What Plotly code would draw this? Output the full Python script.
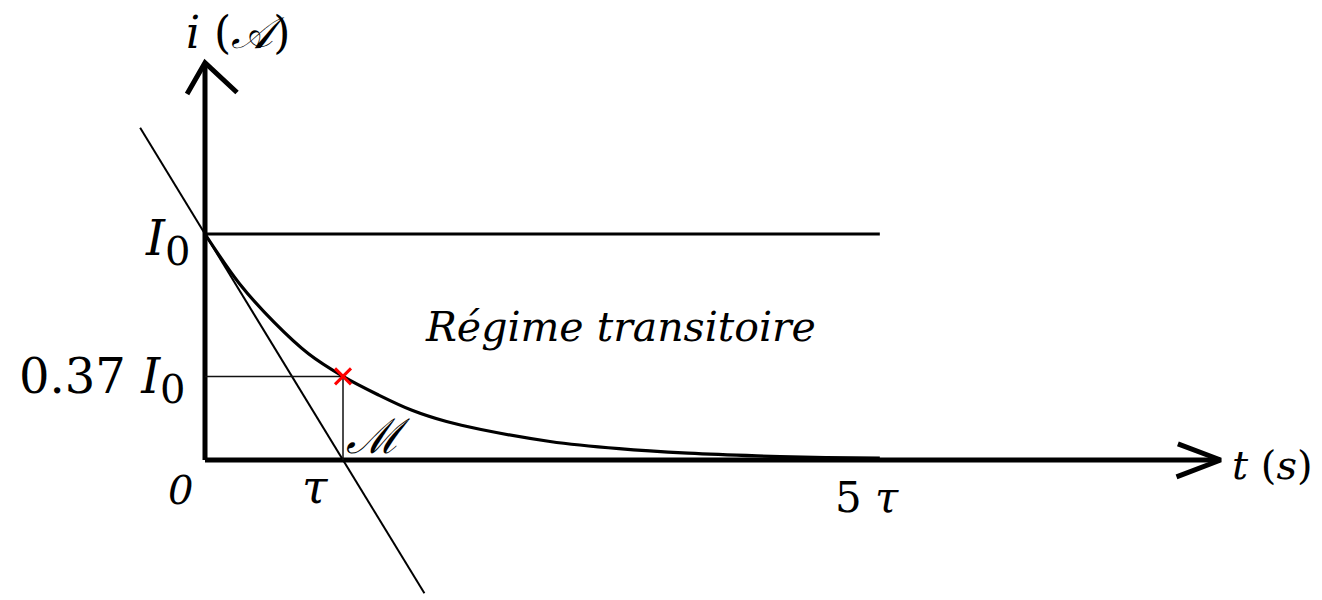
import plotly.graph_objects as go

# Canvas and unit scale: one tau along t, one I0 along i
W, H = 1322, 600
PX_T = 138.0          # pixels per tau
PX_I = 226.0          # pixels per I0
ORIGIN_X, ORIGIN_Y = 205.0, 460.0

TAU = 1.0
I0 = 1.0
RATIO_M = 0.37

# Current decay i(t), sampled along the curve (t in tau, i in I0)
t_curve = [0.0, 0.25, 0.5, 0.75, 1.0, 1.25, 1.5, 1.75, 2.0, 2.5, 3.0, 3.5, 4.0, 4.5, 4.89]
i_curve = [1.00, 0.78, 0.61, 0.47, 0.37, 0.29, 0.22, 0.17, 0.135, 0.082, 0.05, 0.03, 0.018, 0.011, 0.008]

# Tangent at the origin, through (0, I0) and (tau, 0)
t_tangent = [-0.47, 1.59]
i_tangent = [1.47, -0.59]

# Initial-current level
t_plateau = [0.0, 4.89]
i_plateau = [I0, I0]

# Axis extents
T_AXIS_END = 7.34
I_AXIS_END = 1.748


def tx(px):
    return (px - ORIGIN_X) / PX_T


def iy(py):
    return (ORIGIN_Y - py) / PX_I


FONT = "DejaVu Serif"
BLACK = "#000000"

fig = go.Figure()

# axes with arrowheads
fig.add_trace(go.Scatter(x=[0, T_AXIS_END], y=[0, 0], mode="lines",
                         line=dict(color=BLACK, width=5)))
fig.add_trace(go.Scatter(x=[0, 0], y=[0, I_AXIS_END], mode="lines",
                         line=dict(color=BLACK, width=5)))
fig.add_trace(go.Scatter(x=[-0.13, 0, 0.232], y=[I_AXIS_END - 0.128, I_AXIS_END + 0.01, I_AXIS_END - 0.122],
                         mode="lines", line=dict(color=BLACK, width=5)))
fig.add_trace(go.Scatter(x=[T_AXIS_END - 0.29, T_AXIS_END + 0.02, T_AXIS_END - 0.30], y=[0.071, 0, -0.075],
                         mode="lines", line=dict(color=BLACK, width=5)))

# I0 level
fig.add_trace(go.Scatter(x=t_plateau, y=i_plateau, mode="lines",
                         line=dict(color=BLACK, width=3)))

# tangent at the origin
fig.add_trace(go.Scatter(x=t_tangent, y=i_tangent, mode="lines",
                         line=dict(color=BLACK, width=2)))

# guide lines to point M
fig.add_trace(go.Scatter(x=[0, TAU, TAU], y=[RATIO_M * I0, RATIO_M * I0, 0], mode="lines",
                         line=dict(color="#111111", width=1.5)))

# decay curve
fig.add_trace(go.Scatter(x=t_curve, y=i_curve, mode="lines",
                         line=dict(color=BLACK, width=3.2, shape="spline", smoothing=1.0)))

# point M
fig.add_trace(go.Scatter(x=[TAU], y=[RATIO_M * I0], mode="markers",
                         marker=dict(symbol="x-thin", size=16, line=dict(color="#ff0000", width=3))))


def label(text, px, py, size, xanchor="center", yanchor="middle", italic=False):
    fig.add_annotation(x=tx(px), y=iy(py), xref="x", yref="y", text=text, showarrow=False,
                       xanchor=xanchor, yanchor=yanchor,
                       font=dict(family=FONT, size=size, color=BLACK,
                                 style="italic" if italic else "normal"))


SUB0 = "<sub><span style='font-size:40px'>0</span></sub>"

label("<i>i</i> (<i>𝒜</i>)", 238, 32, 44)
label("<i>I</i>" + SUB0, 192, 242, 48, xanchor="right")
label("0.37 <i>I</i>" + SUB0, 188, 380, 48, xanchor="right")
label("<i>0</i>", 180, 490, 40)
label("<i>τ</i>", 315, 487, 46)
label("5 <i>τ</i>", 867, 497, 42)
label("<i>ℳ</i>", 344, 436, 48, xanchor="left")
label("Régime transitoire", 620, 327, 41, italic=True)
label("<i>t</i> (<i>s</i>)", 1230, 465, 40, xanchor="left")

fig.update_layout(
    width=W, height=H,
    margin=dict(l=0, r=0, t=0, b=0),
    paper_bgcolor="white", plot_bgcolor="white",
    showlegend=False,
    xaxis=dict(range=[tx(0), tx(W)], visible=False, fixedrange=True),
    yaxis=dict(range=[iy(H), iy(0)], visible=False, fixedrange=True),
)

fig.write_html("out.html", config={"displayModeBar": False})
